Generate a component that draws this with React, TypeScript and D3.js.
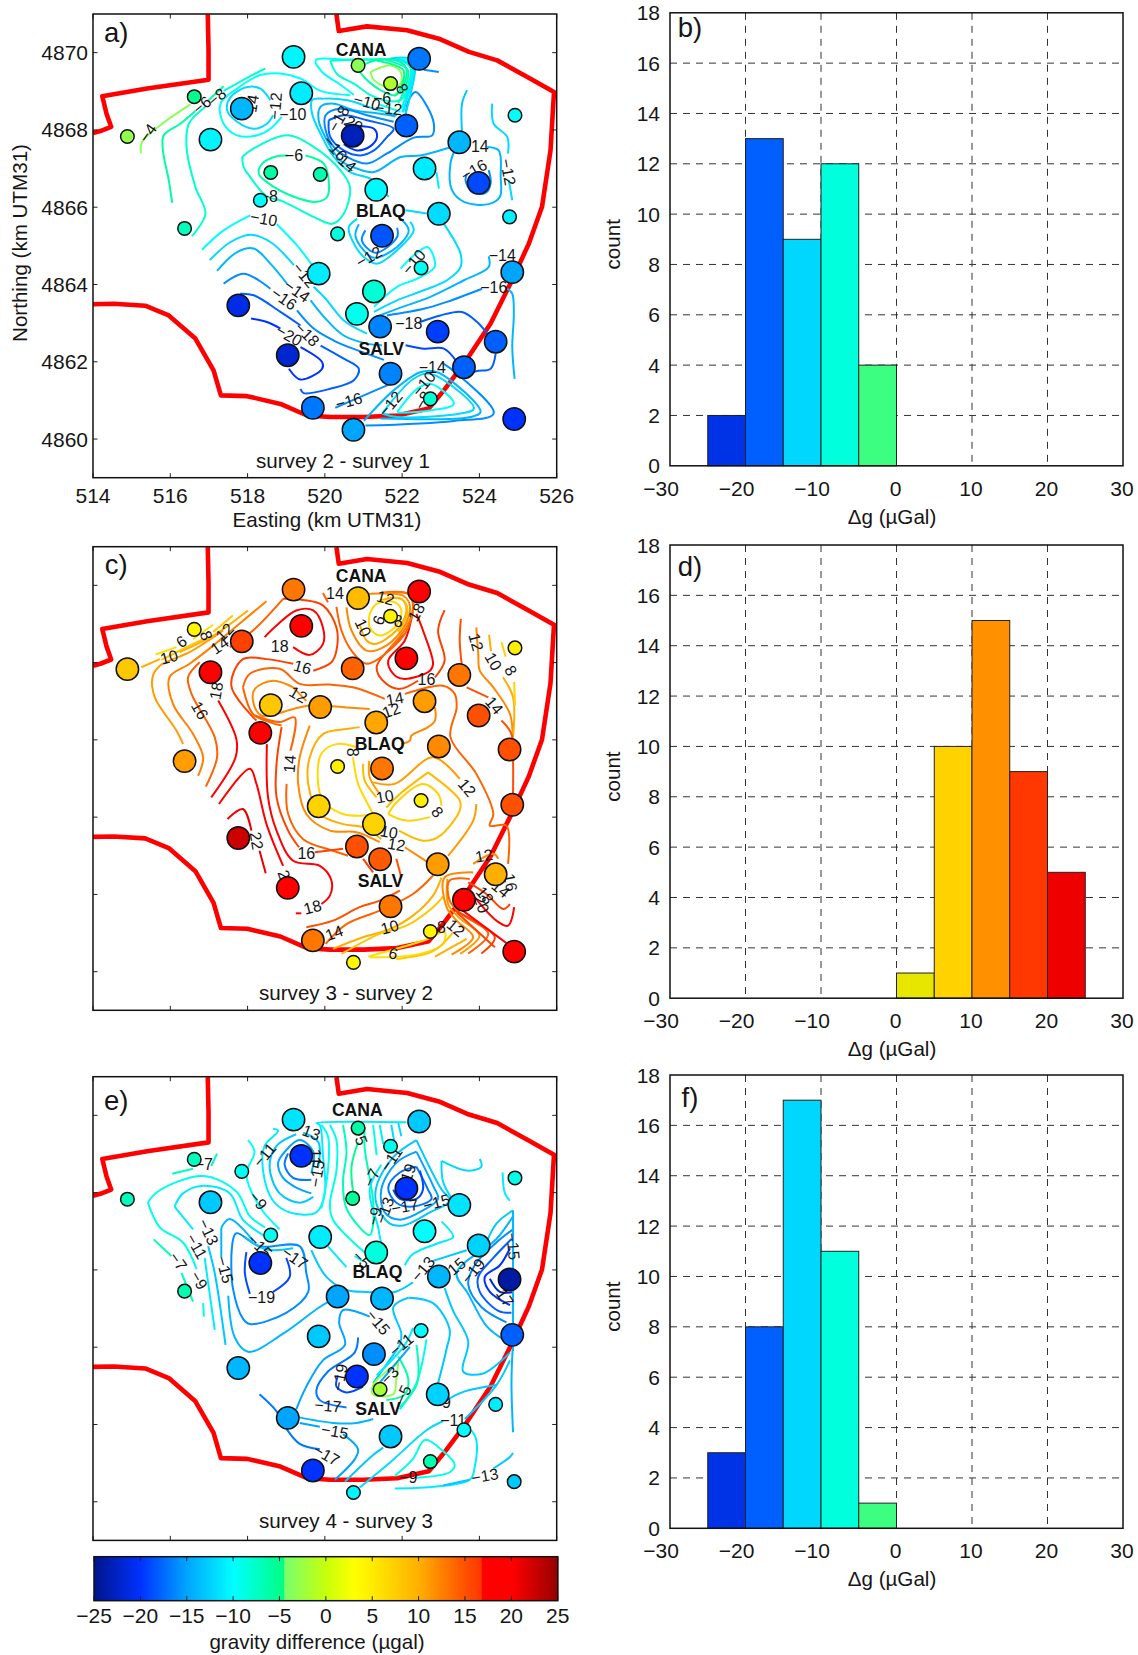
import React from "react";
import * as d3 from "d3";

// Coordinates below are km east of 514 and km north of 4860 (UTM31).
const ORIGIN_E = 514;
const ORIGIN_N = 4860;
const FONT = "'Liberation Sans', Arial, sans-serif";

const colorStops = [-25, -20, -15, -10, -4.6, -4.5, 0, 3, 5, 10, 15, 16.7, 16.8, 20, 25];
const colorValues = ["#00148c", "#0032ff", "#00a5ff", "#00ffff", "#00ff82", "#78ff6e", "#c8ff0a", "#ffff00", "#ffeb00", "#ffaf00", "#ff5000", "#ff3700", "#ff0000", "#ff0000", "#960000"];
const cmap = d3.scaleLinear<string>().domain(colorStops).range(colorValues).clamp(true);

const stationEast = [.89, 2.62, 2.37, 3.04, 3.85, 4.6, 5.88, 4.33, 5.19, 5.39, 6.86, 7.7, 8.44, 8.11, 6.72, 8.58, 9.48, 9.98, 10.92, 10.78, 7.33, 8.95, 6.33, 7.48, 8.49, 5.84, 7.27, 6.83, 7.43, 8.92, 10.42, 10.85, 3.76, 5.04, 7.7, 9.6, 8.73, 5.69, 6.74, 10.9];
const stationNorth = [7.83, 8.86, 5.45, 7.75, 8.55, 6.9, 6.85, 6.18, 9.89, 8.95, 9.67, 9.2, 9.84, 8.11, 7.85, 7.0, 7.68, 6.63, 8.38, 5.75, 6.45, 5.83, 5.31, 5.26, 4.43, 4.28, 3.82, 3.24, 2.91, 2.78, 2.52, 4.32, 3.46, 2.17, 1.69, 1.86, 1.04, .81, .24, .52];
const valuesA = [-3, -5, -7, -10.5, -14, -6, -6.5, -9.8, -10.5, -11, -3.5, -1.5, -17, -18, -23, -11, -14, -19, -9.8, -10.8, -10.3, -12, -8.5, -18.5, -9.5, -11, -8.2, -9.2, -16.5, -19.5, -18, -15, -21, -22, -16.5, -18, -8, -17, -15, -20];
const valuesC = [8, 4, 11, 19, 16, 8, 11, 19, 13, 20, 9, 4, 20, 20, 14, 11, 13, 15, 4.5, 15, 10.5, 12, 4.5, 13, 4.5, 7, 7, 15, 14.5, 11, 10, 15, 22.5, 20, 13, 20, 4, 13, 4, 20];
const valuesE = [-7, -7, -6.5, -13, -9.5, -9.5, -11, -20, -11.5, -20, -6, -9, -13, -20, -5.5, -10, -11.5, -12.5, -9, -24, -8.5, -14, -15, -14, -10, -13, -16, -20, -2, -12.5, -11, -18, -14, -15, -13, -10, -6.5, -20, -10.5, -13];
const smallA = [1, 2, 3, 6, 7, 8, 11, 12, 19, 20, 23, 25, 37];
const smallC = [2, 12, 19, 23, 25, 37, 39];
const smallE = [1, 2, 3, 5, 6, 11, 12, 15, 19, 25, 29, 31, 36, 37, 39, 40];

const boundaryNorthWest = [0, 7.92, .19, 7.97, .47, 8.08, .35, 8.42, .24, 8.87, 1.4, 9.07, 2.99, 9.3, 2.99, 10.06, 2.97, 10.99];
const boundaryMain = [0, 3.49, .54, 3.5, 1.35, 3.45, 1.96, 3.2, 2.65, 2.6, 3.12, 1.78, 3.31, 1.13, 3.99, 1.11, 4.85, .91, 5.54, .61, 6.14, .57, 7.01, .57, 7.87, .61, 8.69, .79, 9.08, 1.26, 9.6, 1.95, 10.29, 2.99, 10.8, 4.02, 11.28, 5.06, 11.62, 6.01, 11.84, 7.47, 11.93, 8.98, 11.24, 9.37, 10.46, 9.8, 9.73, 10.02, 8.95, 10.36, 8.13, 10.58, 7.09, 10.68, 6.36, 10.56, 6.3, 10.99];

// each contour: level, then x,y pairs
const contoursA: number[][] = [
  [-3.5, 1.24, 7.4, 1.27, 7.69, 1.74, 8.12, 2.52, 8.66],
  [-6, 2.05, 6.11, 1.96, 6.7, 1.81, 7.47, 1.83, 7.86, 2.26, 8.16, 2.65, 8.49],
  [-6, 2.99, 8.77, 3.38, 9.13],
  [-8, 2.56, 5.25, 2.91, 5.83, 2.65, 6.52, 2.42, 7.56, 2.48, 8.16, 2.91, 8.6],
  [-8, 3.38, 9.01, 3.99, 9.35, 4.46, 9.59],
  [-10, 4.88, 8.34, 4.59, 8.03, 4.25, 7.86, 3.73, 7.86, 3.38, 8.16, 3.3, 8.68, 3.73, 9.07, 4.33, 9.42, 4.85, 9.46, 5.37, 9.33, 5.89, 9.01, 6.66, 8.9],
  [-12, 4.66, 8.38, 4.5, 8.16, 4.16, 8.03, 3.73, 8.21, 3.47, 8.51, 3.56, 8.85, 3.99, 9.11, 4.33, 9.07, 4.59, 8.77],
  [-12, 7.87, 8.38, 7.27, 8.55, 6.58, 8.77, 5.97, 8.81, 5.67, 8.77, 5.67, 8.42, 5.89, 7.9, 6.23, 7.3, 6.66, 6.91, 7.18, 6.74, 7.44, 6.52, 7.65, 6.27],
  [-14, 7.83, 8.35, 7.44, 8.42, 6.75, 8.51, 6.23, 8.68, 5.89, 8.6, 5.84, 8.25, 6.1, 7.65, 6.4, 7.21, 6.83, 7, 7.27, 6.91, 7.96, 7.3, 8.47, 7.34, 9.21, 7.54],
  [-16, 8.09, 8.38, 8.17, 8.77, 8.35, 8.98, 8.65, 8.6, 8.82, 8.16, 8.78, 7.86, 8.3, 7.8, 7.61, 7.39, 7.09, 7.13, 6.58, 7.3, 6.23, 7.56, 6.02, 7.99, 6.02, 8.38, 6.4, 8.55, 7.09, 8.38, 7.78, 8.21],
  [-18, 6.1, 8.25, 6.49, 8.38, 7.09, 8.25, 7.78, 8.03, 7.61, 7.82, 7.27, 7.47, 6.92, 7.34, 6.49, 7.47, 6.14, 7.82, 6.1, 8.25],
  [-20, 6.49, 8.15, 6.92, 8.1, 7.27, 8.03, 7.35, 7.82, 7.18, 7.58, 6.83, 7.47, 6.49, 7.63],
  [-10, 6.75, 8.91, 6.36, 9.2, 5.93, 9.5, 5.76, 9.8, 6.58, 9.82, 7.44, 9.82, 8.17, 9.8, 8.3, 9.59, 8.17, 8.94, 8, 8.47],
  [-10, 7.4, 8.66, 7.96, 8.47],
  [-8, 6.14, 9.79, 6.32, 9.44, 6.75, 9.2, 7.18, 8.9, 7.53, 8.77, 7.96, 8.77, 8.17, 9.2, 8.22, 9.59, 8, 9.79, 7.09, 9.82, 6.14, 9.79],
  [-6, 6.84, 9.59, 7.09, 9.29, 7.44, 9.03, 7.83, 8.9, 8.09, 9.29, 8.09, 9.63, 7.87, 9.79, 7.27, 9.79, 6.84, 9.59],
  [-3.5, 7.18, 9.5, 7.27, 9.29, 7.65, 9.1, 7.96, 9.2, 7.96, 9.5, 7.7, 9.67, 7.18, 9.5],
  [-12, 7.7, 9.85, 8.17, 9.85, 8.33, 9.63, 8.22, 8.94, 8.09, 8.42],
  [-9, 7.9, 9.83, 8.25, 9.6, 8.1, 8.9, 7.98, 8.55],
  [-11, 7.85, 9.84, 8.28, 9.62, 8.14, 8.92, 8.03, 8.45],
  [-7, 7.6, 9.8, 8.15, 9.55, 8, 8.9, 7.9, 8.7],
  [-5, 7.35, 9.79, 8.03, 9.55, 7.97, 9.1, 7.8, 8.87],
  [-16, 8.56, 9.56, 8.95, 9.5],
  [-8, 3.86, 7.3, 4.16, 7.52, 5.02, 7.86, 5.71, 7.56, 6.4, 6.96, 6.65, 6.52, 6.49, 5.83, 6.19, 5.57, 5.71, 5.75, 4.94, 6.14, 4.46, 6.31, 4.07, 6.78, 3.9, 7.04, 3.86, 7.3],
  [-6, 5.5, 7.34, 5.97, 7.13, 6.1, 6.7, 6.06, 6.27, 5.8, 6.14, 5.2, 6.27, 4.5, 6.65, 4.29, 6.87, 4.38, 7.13, 4.76, 7.32, 5.04, 7.34],
  [-10, 2.82, 4.9, 3.38, 5.4, 4.07, 5.79],
  [-10, 4.76, 5.56, 5.28, 5.01, 5.71, 4.45],
  [-12, 3.02, 4.63, 3.56, 5.1, 4.07, 5.29, 4.59, 5.1, 5.2, 4.5],
  [-12, 5.71, 3.94, 6.02, 3.63, 6.49, 3.07, 7.09, 2.73],
  [-14, 3.21, 4.35, 3.73, 4.84, 4.16, 4.93, 4.59, 4.54, 5.02, 4.02],
  [-14, 5.63, 3.59, 6.06, 3.07, 6.49, 2.68, 7.09, 2.47, 7.48, 2.43],
  [-16, 3.38, 4.02, 3.9, 4.28, 4.59, 3.89],
  [-16, 5.28, 3.33, 5.71, 2.86, 6.23, 2.55, 6.83, 2.3, 7.53, 2.05],
  [-18, 3.81, 3.76, 4.16, 3.72, 4.85, 3.29, 5.37, 2.94],
  [-18, 5.89, 2.42, 6.49, 2.08, 6.88, 1.82, 6.75, 1.52, 6.14, 1.3, 5.45, 1.19, 5.37, 1.3],
  [-20, 4.09, 3.12, 4.5, 3.03, 4.85, 2.86],
  [-20, 5.37, 2.38, 5.93, 1.99, 5.93, 1.82, 5.37, 1.54, 5.07, 1.82],
  [-12, 9.08, 5.57, 9.51, 4.8, 9.51, 4.45, 9.16, 4.11, 8.56, 3.85, 7.87, 3.59, 7.27, 3.29],
  [-12, 8.09, 5.92, 8.69, 5.83],
  [-12, 8.21, 5.62, 8.3, 5.4, 7.96, 4.97, 7.35, 4.54, 7.01, 4.71, 6.71, 5.14, 6.62, 5.49, 6.84, 5.7],
  [-14, 6.88, 5.56, 6.79, 5.27, 7.01, 4.88, 7.27, 4.69, 7.87, 4.97, 8.17, 5.4, 8, 5.66],
  [-16, 7.05, 5.4, 6.96, 5.14, 7.31, 4.82, 7.87, 5.23, 7.87, 5.47],
  [-10, 7.96, 4.41, 8.3, 4.75, 8.65, 4.97, 8.82, 4.71, 8.84, 4.45, 8.39, 4.15, 7.87, 3.94, 7.27, 3.42],
  [-14, 10.24, 4.73, 10.24, 4.45, 9.6, 4.11, 8.73, 3.68, 7.87, 3.37, 7.31, 3.16],
  [-16, 10.07, 3.89, 9.16, 3.55, 8.56, 3.37, 7.61, 3.2],
  [-18, 8.47, 3.03, 8.99, 3.2, 9.55, 3.29, 9.94, 3.03, 10.24, 2.68],
  [-19, 8.09, 2.43, 8.56, 2.34, 9.08, 2.34, 9.42, 1.99],
  [-18, 10.42, 2.21, 10.29, 1.82, 9.94, 1.76, 9.73, 1.69],
  [-14, 10.72, 3.89, 10.85, 3.76, 10.89, 3.24, 10.85, 2.38, 10.91, 1.56],
  [-13, 9.68, 9.03, 9.55, 8.68, 9.55, 7.95],
  [-14, 10.2, 7.56, 10.5, 7.47, 10.55, 6.78, 10.53, 6.27, 10.24, 6.08, 9.6, 6.14, 9.29, 6.44, 9.25, 7.13, 9.38, 7.52],
  [-16, 10.24, 6.96, 10.29, 6.62, 10.16, 6.37, 9.81, 6.39, 9.64, 6.7, 9.68, 6.87],
  [-12, 10.33, 8.68, 10.37, 8.16, 10.72, 7.82, 10.74, 7.39],
  [-12, 10.76, 6.7, 10.85, 6.18],
  [-11, 8.89, 6.91, 8.95, 6.48],
  [-16, 6.27, .81, 6.92, 1.09, 7.7, 1.43],
  [-16, 7.05, .35, 9.34, .47, 10.37, .66, 9.42, 1.69, 9.04, 1.97],
  [-14, 7.01, .47, 7.78, 1.26, 8.47, 1.73, 8.91, 1.73, 10.03, .7, 9.77, .57, 7.44, .53],
  [-12, 7.48, .66, 8.3, 1.56, 8.73, 1.69, 9.86, .79, 9.51, .66, 7.87, .57, 7.48, .66],
  [-10, 7.87, .7, 8.39, 1.3, 8.73, 1.43, 9.34, .91, 8.73, .74, 7.87, .68],
];
const labelsA: [string, number, number, number][] = [
  ["−4", 1.42, 7.92, -55], ["−6", 2.82, 8.64, -40], ["−8", 3.21, 8.85, -40], ["14", 4.12, 8.68, -80], ["−12", 4.72, 8.62, -85], ["−10", 5.17, 8.4, 0],
  ["−18", 6.36, 8.29, -60], ["20", 6.75, 8.15, 30], ["−16", 6.27, 7.52, 50], ["14", 6.58, 7.13, 40], ["−6", 5.2, 7.33, 0], ["−8", 4.55, 6.28, 0], ["−10", 4.42, 5.7, 10],
  ["−12", 5.47, 4.24, 50], ["−14", 5.28, 3.83, 35], ["−16", 4.94, 3.63, 35], ["−18", 5.54, 2.71, 45], ["−20", 5.07, 2.68, 30], ["−18", 8.17, 2.99, 0], ["−14", 10.59, 4.76, 0],
  ["−16", 10.37, 3.91, 0], ["14", 10.01, 7.56, 0], ["−16", 9.86, 6.96, -30], ["−12", 10.74, 6.91, 80], ["−10", 7.09, 8.72, 15], ["−12", 7.65, 8.55, 5], ["−6", 7.48, 8.81, 0], ["8", 8, 9.07, 60],
  ["−12", 7.14, 4.71, -30], ["−10", 8.3, 4.58, -50], ["−14", 8.78, 1.86, 0], ["−10", 8.56, 1.43, -50], ["−12", 7.7, .91, -50], ["−8", 8.54, 1, -60], ["−16", 6.62, .98, -15],
];

const contoursC: number[][] = [
  [6, 1.62, 8.21, 2.16, 8.4],
  [6, 2.59, 8.61, 3.11, 8.98],
  [8, 1.77, 8.07, 2.5, 8.44, 2.85, 8.61],
  [8, 3.11, 8.79, 3.62, 9.22],
  [10, 1.25, 7.88, 1.73, 8.09],
  [10, 2.24, 8.27, 3.11, 8.7, 4.01, 9.35],
  [11, 2.33, 5.89, 2.16, 6.24, 1.6, 7.1, 1.54, 7.62, 1.73, 7.92, 2.5, 8.27, 3.37, 8.83],
  [12.5, 2.72, 5.07, 2.85, 5.55, 2.59, 6.15, 2.07, 6.93, 1.98, 7.62, 2.5, 7.97, 3.11, 8.44, 4.14, 9.3, 4.49, 9.59],
  [14, 2.92, 4.79, 3.21, 5.55, 3.15, 6.07, 2.55, 7.19, 2.46, 7.62, 2.76, 8.01],
  [14, 3.54, 8.4, 4.14, 8.83, 4.92, 9.65],
  [16.8, 3.06, 4.51, 3.69, 5.55, 3.71, 6.02, 3.24, 7.02],
  [19, 3.26, 4.34, 4.06, 5.25, 4.23, 4.86, 4.49, 3.82, 4.92, 2.74],
  [21, 3.48, 3.95, 3.88, 4.21, 4.1, 3.65],
  [21, 4.31, 3.13, 4.47, 2.55],
  [18, 4.44, 8.66, 4.75, 8.96, 5.26, 9.35, 5.7, 9.35, 5.95, 8.91, 5.95, 8.48, 5.61, 8.2, 5.18, 8.4],
  [16, 4.92, 9.65, 5.44, 9.62, 5.95, 9.48, 6.3, 8.91, 6.3, 8.31, 6.17, 8.01, 5.7, 7.79],
  [16, 5.18, 7.97, 4.49, 8.09, 3.88, 8.09, 3.58, 7.4, 4.23, 6.5],
  [14, 3.88, 7.36, 4.06, 7.71, 4.83, 7.84, 5.35, 7.45, 6.13, 7.43, 6.73, 7.36, 7.55, 7.06],
  [14, 8.07, 7.19, 9.06, 7.4, 9.36, 7.19, 9.41, 6.84, 9.25, 6.07, 9.92, 5.12, 10.36, 4.08, 10.27, 3.78, 10.7, 3.78, 10.74, 2.79],
  [14, 3.88, 7.36, 4.14, 6.67, 4.57, 6.46, 4.88, 6.37],
  [14, 4.19, 6.63, 4.83, 6.46, 5.22, 6.58, 5.11, 5.72],
  [14, 5.01, 4.86, 5.05, 4.08, 5.44, 3.43, 6.21, 3.13, 6.6, 3],
  [16, 4.88, 6.33, 4.75, 5.38, 4.75, 4.51, 5.05, 3.65, 5.33, 3.22],
  [16, 5.74, 3.09, 6.47, 3.18],
  [18, 4.5, 5.89, 4.53, 4.51, 4.75, 3.65, 5.18, 2.87, 5.87, 2.74, 6.17, 2.36, 6.13, 1.97, 5.91, 1.75],
  [18, 5.39, 1.51, 5.25, 1.51],
  [12, 5.18, 7.36, 4.66, 7.53, 4.19, 7.32, 4.14, 7.02, 4.36, 6.63, 5.18, 6.8, 5.61, 6.89, 6.56, 6.84, 7.16, 6.8],
  [12, 5.52, 7.01, 5.18, 7.36],
  [12, 8.85, 6.84, 8.85, 6.5, 8.67, 6.33, 8.24, 6.11, 8.2, 5.98, 7.98, 5.89],
  [12, 5.61, 6.37, 5.35, 5.55, 5.31, 4.86, 5.52, 4.08, 6.13, 3.65, 6.82, 3.61, 7.42, 3.35],
  [12, 8.07, 3.22, 8.67, 2.83],
  [10, 6.9, 6.33, 6.56, 6.28, 5.95, 6.15, 5.61, 5.55, 5.57, 4.86, 5.87, 4.08, 6.47, 3.82, 6.99, 3.74, 7.46, 3.43],
  [6.5, 6.82, 5.81, 6.3, 5.89, 5.91, 5.64, 5.82, 4.95, 5.95, 4.43, 6.47, 4.08, 6.99, 4.04, 7.25, 4.08],
  [6.5, 6.73, 5.55, 6.86, 4.86, 7.16, 4.25, 7.25, 4.08],
  [9, 6.99, 5.38, 7.03, 4.95, 7.34, 4.51],
  [11, 7.15, 5.46, 7.16, 5.03, 7.42, 4.6],
  [7, 7.64, 4.08, 7.85, 4.38, 8.54, 4.86, 8.93, 4.6, 9.02, 4.3],
  [7, 8.72, 4, 8.11, 3.91, 7.64, 4.08],
  [9, 8.67, 5.16, 9.49, 4.43, 9.49, 4.17, 8.93, 3.48, 8.54, 3.39, 7.92, 3.65],
  [9, 7.59, 4.25, 7.94, 4.6, 8.67, 5.16],
  [11, 7.25, 4.9, 7.81, 4.86, 8.8, 5.55, 9.49, 4.99],
  [11, 9.92, 4.34, 9.84, 3.91, 9.19, 3],
  [20, 8.28, 9.35, 8.07, 8.57, 7.64, 8.05, 7.77, 7.71, 8.03, 7.58, 8.72, 7.79, 8.8, 7.97, 8.54, 8.83, 8.37, 9.26],
  [16, 8.07, 8.74, 7.34, 7.88, 7.59, 7.45, 7.94, 7.32, 8.41, 7.53],
  [16, 8.85, 7.62, 9.1, 8.05, 8.93, 8.83, 9.1, 9.36],
  [14, 5.95, 9.8, 6.08, 9.56],
  [14, 6.3, 9.44, 6.43, 8.83, 6.69, 8.31, 7.08, 7.97, 7.81, 8.44, 8.16, 8.91, 8.28, 9.52, 8.16, 9.78, 7.46, 9.81],
  [13, 7.5, 9.8, 8.2, 9.76, 8.3, 9.5, 8.1, 8.9, 7.7, 8.4],
  [12, 6.56, 9.43, 6.69, 8.83, 7.08, 8.31, 7.59, 8.44, 8.07, 8.96, 8.2, 9.48, 8.03, 9.73, 7.42, 9.79, 6.99, 9.77],
  [10, 6.9, 9, 7.08, 8.57, 7.29, 8.48, 7.85, 8.83, 8.11, 9.35, 7.98, 9.65, 7.42, 9.61],
  [9, 7.6, 9.68, 8.02, 9.62, 8.14, 9.3, 7.9, 8.8],
  [6.5, 7.16, 9.26, 7.16, 8.91, 7.42, 8.7, 7.85, 8.96, 7.98, 9.35, 7.81, 9.56, 7.34, 9.52, 7.16, 9.26],
  [15, 9.52, 9.13, 9.49, 8.57, 9.54, 7.97],
  [12, 9.92, 8.91, 9.97, 8.22, 10.01, 7.79, 10.36, 7.36, 10.79, 6.67, 10.86, 6.07],
  [10, 10.25, 8.72, 10.3, 8.3],
  [10, 10.61, 7.62, 10.87, 7.1, 10.87, 6.07],
  [7, 10.57, 8.53, 10.68, 8.15],
  [7, 10.9, 7.5, 10.92, 6.89],
  [15, 9.67, 7.36, 10.23, 7.1],
  [15, 10.57, 6.5, 10.83, 6.15, 10.87, 5.46, 10.87, 4.6],
  [14, 8.8, 2.49, 8.28, 2.01, 7.42, 1.58, 6.56, 1.23, 6.02, .72],
  [10, 9.02, 2.44, 8.8, 1.97, 8.28, 1.45, 7.68, 1.1, 6.99, .89, 6.21, .59],
  [8, 9.08, 1.97, 8.8, 1.67, 8.11, 1.19, 7.42, .98, 6.43, .46],
  [6, 7.12, .39, 8.54, .8, 9.1, 1.02, 9.06, .72, 8.46, .46, 7.16, .37],
  [8, 7.85, .33, 8.8, .53, 9.32, 1.02],
  [10, 8.85, .39, 9.67, .85],
  [11, 9.5, .46, 10, .93, 9.47, 1.4, 9.19, 1.75, 9.17, 2.4],
  [12, 9.28, .44, 9.84, .89, 9.41, 1.32, 9.15, 1.67, 9.1, 2.44, 9.84, 2.57],
  [14, 9.71, .47, 10.23, .98, 9.54, 1.49, 9.23, 1.84, 9.23, 2.36, 9.75, 2.4],
  [16, 10.05, .47, 10.4, .89, 9.37, 1.58],
  [16, 10.4, .63, 9.41, 1.54],
  [20, 10.79, .67, 9.45, 1.67],
  [16, 9.71, 2.31, 10.18, 2.01, 10.62, 1.62, 10.79, 1.75],
  [18, 9.88, 1.92, 10.44, 1.32, 10.74, 1.19, 10.9, 1.67],
  [12, 9.84, 2.79, 10.36, 3.05, 10.49, 2.92],
  [16, 6.99, 2.92, 7.25, 2.57],
  [15, 7.85, 2.92, 7.98, 2.44],
  [15, 7.94, 2.1, 7.42, 1.84, 6.9, 1.67, 6.21, 1.32, 5.52, 1.15],
];
const labelsC: [string, number, number, number][] = [
  ["6", 2.29, 8.54, -35], ["8", 2.93, 8.7, 70], ["12", 3.41, 8.79, -45], ["14", 3.28, 8.44, -35], ["10", 1.97, 8.14, -15], ["18", 3.19, 7.27, -80], ["16", 2.76, 6.76, 60], ["18", 4.83, 8.41, 0],
  ["16", 5.42, 7.88, 15], ["12", 5.31, 7.17, 30], ["14", 7.81, 7.06, -10], ["12", 7.72, 6.76, -20], ["16", 8.63, 7.56, 0], ["14", 6.26, 9.79, 0], ["12", 7.57, 9.67, 15], ["10", 6.99, 8.9, 65],
  ["18", 8.37, 9.3, -60], ["6", 7.4, 9.1, -70], ["8", 7.9, 9.07, 0], ["12", 9.91, 8.53, 75], ["10", 10.36, 8.03, 60], ["8", 10.81, 7.79, 60], ["14", 10.38, 6.89, 50], ["14", 5.09, 5.38, -85],
  ["10", 7.55, 4.53, -10], ["8", 8.91, 4.13, 50], ["12", 9.68, 4.76, 50], ["10", 7.66, 3.61, 10], ["12", 7.85, 3.29, 10], ["16", 5.52, 3.07, 0], ["8", 6.71, 5.68, 90], ["22", 4.23, 3.39, 80],
  ["2", 4.94, 2.51, 70], ["18", 5.68, 1.67, -15], ["14", 6.24, 1, -20], ["10", 7.68, 1.15, -15], ["6", 7.77, .47, 15], ["8", 9.02, 1.15, 0], ["12", 9.39, 1.13, 40], ["12", 10.12, 3, -10],
  ["18", 10.14, 1.97, 50], ["20", 10.05, 1.75, 70], ["14", 10.55, 2.14, 40], ["16", 10.8, 2.31, 80],
];

const contoursE: number[][] = [
  [-7, 2.05, 8.49, 2.59, 8.62],
  [-7, 3.06, 8.69, 3.21, 9.01],
  [-7, 1.57, 6.79, 2.03, 6.36],
  [-7, 2.29, 5.92, 2.59, 5.18],
  [-9, 1.42, 7.74, 1.68, 8.03, 2.85, 8.43, 3.71, 8.03, 4.06, 7.39, 4.45, 7.1],
  [-9, 1.42, 7.74, 1.73, 7.1, 2.33, 6.71, 2.68, 6.02],
  [-9, 2.85, 5.14, 2.87, 4.79],
  [-11, 2.11, 7.64, 2.33, 7.98, 2.85, 8.18, 3.54, 7.98, 3.88, 7.3, 4.49, 6.85],
  [-11, 2.11, 7.64, 2.59, 7.05],
  [-11, 2.89, 6.31, 3.15, 4.45],
  [-13, 2.98, 6.61, 3.15, 5.92, 3.43, 4.06],
  [-14, 3.32, 7.1, 3.32, 6.31],
  [-14, 3.5, 5.33, 3.67, 4.25, 4.01, 3.88, 4.92, 4.35, 5.87, 5.04, 6.3, 5.28],
  [-14, 3.32, 7.1, 3.54, 7.32, 4.14, 6.76],
  [-16, 3.61, 6.71, 3.71, 6.95, 4.31, 6.61, 5.35, 6.61, 5.52, 5.92, 5.57, 5.43, 5, 4.89, 4.06, 4.6, 3.88, 4.74, 3.62, 5.53, 3.58, 6.31, 3.61, 6.71],
  [-19, 3.97, 6.46, 3.93, 5.92, 4.06, 5.38],
  [-19, 4.66, 5.43, 5.09, 5.82, 5, 6.31],
  [-10, 4.01, 9.36, 4.18, 9.06, 3.97, 8.47, 4.31, 7.64, 4.83, 7.05],
  [-11, 4.66, 9.65, 4.79, 9.6, 4.44, 9.21, 4.4, 8.57, 4.66, 7.79, 5.09, 7.49, 5.78, 7.49, 6, 7.98, 5.95, 8.97, 5.87, 9.75, 5.78, 9.8, 8.11, 9.82],
  [-13, 5.26, 9.51, 4.75, 9.21, 4.57, 8.67, 4.83, 7.98, 5.35, 7.74, 5.7, 7.89],
  [-13, 5.83, 8.67, 5.83, 9.31, 5.44, 9.55],
  [-15, 5.01, 9.11, 4.79, 8.77, 4.92, 8.38, 5.26, 8.13, 5.65, 7.98],
  [-15, 5.65, 8.5, 5.7, 9.06, 5.35, 9.36, 5.01, 9.11],
  [-17, 5.05, 9.01, 4.96, 8.72, 5.18, 8.38, 5.65, 8.33],
  [-13, 8.37, 9.36, 9.02, 8.08, 9.24, 7.79, 8.72, 7.49, 8.03, 7.15, 7.68, 7.2, 7.34, 7.69, 7.34, 8.18, 7.77, 8.92, 8.37, 9.36],
  [-15, 8.37, 9.06, 8.8, 8.18, 8.93, 7.84, 8.54, 7.54, 7.94, 7.3, 7.55, 7.49, 7.46, 8.08, 7.85, 8.77, 8.37, 9.06],
  [-17, 8.37, 8.67, 8.67, 8.08, 8.76, 7.84, 8.28, 7.64, 7.85, 7.74, 7.64, 8.13, 7.94, 8.52, 8.37, 8.67],
  [-19, 8.46, 8.57, 8.54, 8.08, 8.37, 7.84, 7.94, 7.84, 7.77, 8.08],
  [-5, 6.86, 9.31, 6.69, 8.67, 6.73, 8.03],
  [-7, 6.47, 9.75, 6.56, 9.06, 6.47, 8.28, 6.56, 7.59, 7.16, 6.9, 7.25, 7.2, 7.25, 7.79, 7.16, 8.38, 7.03, 9.16, 7.03, 9.7],
  [-9, 6.13, 9.75, 6.3, 9.36, 6.3, 8.57, 6.13, 7.69, 6.21, 7.3, 7.08, 6.41],
  [-9, 7.25, 9.75, 7.34, 8.97],
  [-10, 5.91, 9.75, 6.08, 9.46, 6.08, 8.57, 5.91, 7.59],
  [-11, 7.42, 9.75, 7.51, 9.26],
  [-12, 7.72, 9.75, 7.8, 9.3],
  [-12, 7.9, 9.8, 7.98, 9.46],
  [-11, 7.46, 8.72, 7.16, 8.08, 7.38, 7.1, 7.46, 6.71, 7.59, 6.51],
  [-12, 9.02, 8.82, 9.67, 8.57, 10.05, 8.67, 10.01, 8.87],
  [-12, 9.02, 8.82, 9.06, 8.28, 9.32, 7.79],
  [-11, 9.02, 7.25, 9.32, 6.85, 8.98, 6.71, 8.28, 6.41, 8.07, 6.12],
  [-11, 10.6, 8.52, 10.66, 7.98, 10.79, 7.79],
  [-13, 5.65, 6.51, 6.04, 5.82, 6.56, 5.48, 7.08, 5.43, 7.81, 5.43, 8.28, 5.68],
  [-13, 8.76, 6.22, 9.67, 6.51],
  [-11, 6.08, 6.61, 6.56, 6.07],
  [-9, 6.77, 6.36, 6.99, 6.22],
  [-13, 9.1, 5.53, 9.32, 4.94, 9.71, 4.15, 9.58, 3.37, 10.1, 3.32, 10.79, 3.86],
  [-15, 7.16, 4.79, 6.47, 4.96, 6.37, 4.64, 6.52, 4.06, 5.95, 3.66, 5.52, 2.98, 5.26, 2.39],
  [-17, 6.86, 4.25, 6.77, 3.86, 6.08, 3.37, 5.78, 2.88, 5.87, 2.63, 6.56, 2.44],
  [-19, 6.34, 3.27, 6.3, 2.98, 6.56, 2.83, 6.99, 2.98],
  [-13, 8.16, 5.28, 8.8, 5.14, 9.23, 4.45, 9.15, 3.96, 8.93, 3.07],
  [-13, 8.16, 5.28, 7.77, 5.04, 7.98, 4.35, 7.94, 4.06, 7.81, 3.86, 7.25, 3.07],
  [-11, 8.28, 4.5, 8.07, 4.06, 7.34, 3.27],
  [-9, 8.63, 4.2, 8.37, 3.07, 7.94, 2.39],
  [-7, 8.37, 4.06, 8.39, 3.07, 7.94, 2.45],
  [-6, 7.9, 3.76, 8.16, 3.17, 8.07, 2.78, 7.59, 2.63],
  [-3, 7.9, 3.61, 7.85, 3.17, 7.77, 2.78, 7.25, 2.78, 7.25, 3.02, 7.9, 3.61],
  [-15, 7.25, 2.88, 8.2, 4.01],
  [-17, 4.31, 2.78, 4.75, 2.34, 5, 1.9, 5.35, 1.5, 5.87, 1.36],
  [-15, 5.35, 2.04, 5.87, 1.94],
  [-15, 6.47, 1.75, 6.86, 1.36, 6.78, 1.11, 6.26, .57],
  [-14, 5.31, 2.19, 6.21, 2.04, 6.82, 2.04, 7.25, 2.14],
  [-13, 6.52, .52, 7.25, 1.21, 7.51, 1.4],
  [-12, 6.9, .37, 7.68, 1.01, 8.63, 1.85, 9.06, 2.09],
  [-9, 7.81, .67, 8.28, 1.11, 8.59, 1.6, 9.06, 1.31, 9.36, .96, 9.24, .77, 8.37, .62],
  [-13, 9.62, 2.14, 10.44, 3.02, 10.79, 3.66],
  [-13, 9.15, 2.63, 9.6, 2.85, 10.44, 3.02],
  [-11, 7.81, .34, 9.75, .57, 9.88, .91, 9.92, 1.6, 9.79, 1.85],
  [-13, 9.06, .42, 9.75, .57],
  [-13, 10.36, .86, 10.79, 1.16, 10.87, 1.26],
  [-14, 10.86, 3.96, 10.83, 3.07, 10.87, 1.8],
  [-14, 10.87, 7.39, 10.44, 6.8, 9.41, 5.92, 9.71, 5.38, 10.18, 4.55, 10.62, 4.2],
  [-16, 10.87, 7.05, 10.44, 6.71, 9.88, 6.12, 9.71, 5.63, 10.05, 5.04, 10.7, 4.64],
  [-18, 10.83, 6.8, 10.36, 6.31, 9.97, 5.82, 10.01, 5.43, 10.49, 4.94, 10.83, 4.89],
  [-20, 10.79, 6.56, 10.53, 6.12, 10.14, 5.82, 10.27, 5.43, 10.79, 5.09],
  [-22, 10.27, 5.77, 10.53, 5.43, 10.87, 5.43],
  [-13, 10.87, 7.54, 10.44, 7.2, 10.14, 6.61],
  [-14, 10.87, 7.54, 10.87, 3.9],
  [-13, 3.93, 6.85, 4.49, 6.53, 5.18, 6.56],
];
const labelsE: [string, number, number, number][] = [
  ["−7", 2.87, 8.72, 0], ["−11", 4.44, 8.97, -50], ["13", 5.65, 9.55, 20], ["11", 5.74, 8.92, 90], ["−15", 5.8, 8.49, -80], ["−9", 4.27, 7.79, 50], ["−13", 2.98, 6.98, 65], ["−11", 2.68, 6.61, 60],
  ["−15", 3.41, 6, 75], ["−7", 2.2, 6.22, 55], ["−9", 2.74, 5.73, 60], ["−15", 4.32, 6.61, 45], ["−17", 5.22, 6.31, 35], ["−19", 4.36, 5.28, 0], ["−5", 6.9, 9.46, 70], ["−7", 7.21, 8.38, -65],
  ["−9", 7.29, 7.39, -75], ["−13", 7.55, 7.54, -70], ["−11", 7.72, 8.87, -55], ["19", 8.16, 8.52, -70], ["−17", 8.07, 7.64, -10], ["−15", 8.89, 7.74, -15], ["−5", 6.95, 6.27, 45], ["−13", 8.54, 6.02, -50],
  ["15", 9.41, 6.09, -40], ["−19", 9.84, 5.97, -50], ["−15", 10.87, 6.61, 85], ["17", 10.66, 5.28, 55], ["−15", 7.38, 4.64, 50], ["−11", 7.98, 4.06, -40], ["−19", 6.39, 3.22, -80], ["−3", 7.68, 3.27, -45],
  ["−5", 8.03, 2.78, -65], ["−17", 6.08, 2.48, 5], ["−15", 6.26, 1.82, 10], ["−17", 6.04, 1.21, 30], ["−11", 9.32, 2.09, 0], ["−9", 8.16, .62, 0], ["−13", 10.14, .67, -10], ["9", 9.15, 2.58, 0],
];

const mapEastTicks = [514, 516, 518, 520, 522, 524, 526];
const mapNorthTicks = [4860, 4862, 4864, 4866, 4868, 4870];
const histXTicks = [-30, -20, -10, 0, 10, 20, 30];
const histYTicks = [0, 2, 4, 6, 8, 10, 12, 14, 16, 18];
const colorbarTicks = [-25, -20, -15, -10, -5, 0, 5, 10, 15, 20, 25];

const binEdgesB = [-25, -20, -15, -10, -5];
const countsB = [2, 13, 9, 12, 4];
const colorsB = ["#0032e6", "#005fff", "#00d7ff", "#00ffdc", "#3cff82"];
const binEdgesD = [0, 5, 10, 15, 20];
const countsD = [1, 10, 15, 9, 5];
const colorsD = ["#e6e600", "#ffd200", "#ff9100", "#ff3700", "#ee0000"];
const countsF = [3, 8, 17, 11, 1];

const TICK_FS = 21;
const LABEL_FS = 20.6;
const INK = "#161616";

const minus = (v: number) => (v < 0 ? "−" + Math.abs(v) : String(v));
const pairs = (flat: number[]) => {
  const out: [number, number][] = [];
  for (let i = 0; i + 1 < flat.length; i += 2) out.push([flat[i], flat[i + 1]]);
  return out;
};

type MapProps = {
  top: number; bottom: number; letter: string; letterDy: number; survey: string; surveyX: number; surveyY: number; contours: number[][]; labels: [string, number, number, number][];
  values: number[]; small: number[]; cana: [number, number]; blaq: [number, number]; salv: [number, number]; axisLabels?: boolean;
};

function MapPanel({ top, bottom, letter, letterDy, survey, surveyX, surveyY, contours, labels, values, small, cana, blaq, salv, axisLabels }: MapProps) {
  const left = 93, right = 556.7;
  const x = d3.scaleLinear().domain([514, 526]).range([left, right]);
  const y = d3.scaleLinear().domain([4859, 4871]).range([bottom, top]);
  const smooth = d3.line<[number, number]>().x((d) => x(ORIGIN_E + d[0])).y((d) => y(ORIGIN_N + d[1])).curve(d3.curveCatmullRom.alpha(0.5));
  const straight = d3.line<[number, number]>().x((d) => x(ORIGIN_E + d[0])).y((d) => y(ORIGIN_N + d[1]));
  const clipId = "clip-" + letter[0];
  return (
    <g fontFamily={FONT}>
      <clipPath id={clipId}><rect x={left} y={top} width={right - left} height={bottom - top} /></clipPath>
      <g clipPath={`url(#${clipId})`}>
        {[boundaryNorthWest, boundaryMain].map((b, i) => (
          <path key={i} d={straight(pairs(b)) || ""} fill="none" stroke="#ff0000" strokeWidth={4.6} strokeLinejoin="round" />
        ))}
      </g>
      {contours.map((c, i) => (
        <path key={i} d={smooth(pairs(c.slice(1))) || ""} fill="none" stroke={cmap(c[0])} strokeWidth={2} />
      ))}
      {labels.map(([t, a, b, r], i) => (
        <text key={i} transform={`translate(${x(ORIGIN_E + a)},${y(ORIGIN_N + b)}) rotate(${r})`} fontSize={16} fill={INK} textAnchor="middle" dominantBaseline="central">{t}</text>
      ))}
      {stationEast.map((e, i) => (
        <circle key={i} cx={x(ORIGIN_E + e)} cy={y(ORIGIN_N + stationNorth[i])} r={small.includes(i + 1) ? 6.8 : 11.2} fill={cmap(values[i])} stroke="#111" strokeWidth={1.5} />
      ))}
      {[["CANA", cana], ["BLAQ", blaq], ["SALV", salv]].map(([t, p]: any) => (
        <text key={t} x={x(ORIGIN_E + p[0])} y={y(ORIGIN_N + p[1])} fontSize={17.6} fontWeight="bold" fill="#111" textAnchor="middle" dominantBaseline="central">{t}</text>
      ))}
      <text x={surveyX} y={surveyY} fontSize={LABEL_FS} fill={INK} textAnchor="middle" dominantBaseline="central">{survey}</text>
      <text x={x(ORIGIN_E + .6)} y={top + letterDy} fontSize={27.5} fill={INK} textAnchor="middle" dominantBaseline="central">{letter}</text>
      {mapEastTicks.map((t) => (
        <g key={t} stroke="#222" strokeWidth={1}>
          <line x1={x(t)} x2={x(t)} y1={top} y2={top + 4.5} />
          <line x1={x(t)} x2={x(t)} y1={bottom} y2={bottom - 4.5} />
        </g>
      ))}
      {mapNorthTicks.map((t) => (
        <g key={t} stroke="#222" strokeWidth={1}>
          <line y1={y(t)} y2={y(t)} x1={left} x2={left + 4.5} />
          <line y1={y(t)} y2={y(t)} x1={right} x2={right - 4.5} />
        </g>
      ))}
      <rect x={left} y={top} width={right - left} height={bottom - top} fill="none" stroke="#111" strokeWidth={1.5} />
      {axisLabels && (
        <g fill={INK} fontSize={TICK_FS}>
          {mapEastTicks.map((t) => <text key={t} x={x(t)} y={bottom + 25.5} textAnchor="middle">{t}</text>)}
          {mapNorthTicks.map((t) => <text key={t} x={left - 5} y={y(t) + 7.5} textAnchor="end">{t}</text>)}
          <text x={327} y={bottom + 49} textAnchor="middle" fontSize={LABEL_FS}>Easting (km UTM31)</text>
          <text transform={`translate(27,243) rotate(-90)`} textAnchor="middle" fontSize={LABEL_FS}>Northing (km UTM31)</text>
        </g>
      )}
    </g>
  );
}

function HistPanel({ top, bottom, letter, letterDy, edges, counts, colors }: { top: number; bottom: number; letter: string; letterDy: number; edges: number[]; counts: number[]; colors: string[] }) {
  const left = 670, right = 1123;
  const x = d3.scaleLinear().domain([-30, 30]).range([left, right]);
  const y = d3.scaleLinear().domain([0, 18]).range([bottom, top]);
  return (
    <g fontFamily={FONT}>
      {histXTicks.slice(1, -1).map((t) => <line key={t} x1={x(t)} x2={x(t)} y1={top} y2={bottom} stroke="#333" strokeWidth={1} strokeDasharray="7 6" />)}
      {histYTicks.slice(1, -1).map((t) => <line key={t} y1={y(t)} y2={y(t)} x1={left} x2={right} stroke="#333" strokeWidth={1} strokeDasharray="7 6" />)}
      {counts.map((c, i) => (
        <rect key={i} x={x(edges[i])} width={x(edges[i] + 5) - x(edges[i])} y={y(c)} height={y(0) - y(c)} fill={colors[i]} stroke="#222" strokeWidth={1} />
      ))}
      <rect x={left} y={top} width={right - left} height={bottom - top} fill="none" stroke="#111" strokeWidth={1.5} />
      <g fill={INK} fontSize={TICK_FS}>
        {histXTicks.map((t) => <text key={t} x={x(t) - (t < 0 ? 9 : 1)} y={bottom + 30} textAnchor="middle">{minus(t)}</text>)}
        {histYTicks.map((t) => <text key={t} x={left - 10} y={y(t) + 7.5} textAnchor="end">{t}</text>)}
        <text x={892} y={bottom + 58} textAnchor="middle" fontSize={LABEL_FS}>Δg (µGal)</text>
        <text transform={`translate(620,${(top + bottom) / 2 + 5}) rotate(-90)`} textAnchor="middle" fontSize={LABEL_FS}>count</text>
      </g>
      <text x={left + 20} y={top + letterDy} fontSize={27.5} fill={INK} textAnchor="middle" dominantBaseline="central">{letter}</text>
    </g>
  );
}

function Colorbar() {
  const left = 94, right = 557.7, top = 1556.7, bottom = 1600.7;
  const x = d3.scaleLinear().domain([-25, 25]).range([left, right]);
  const steps = d3.range(left, right, 1);
  return (
    <g fontFamily={FONT}>
      {steps.map((p) => <rect key={p} x={p} y={top} width={1.4} height={bottom - top} fill={cmap(x.invert(p))} />)}
      {colorbarTicks.map((t) => (
        <g key={t} stroke="#222" strokeWidth={1}>
          <line x1={x(t)} x2={x(t)} y1={top} y2={top + 4.5} />
          <line x1={x(t)} x2={x(t)} y1={bottom} y2={bottom - 4.5} />
        </g>
      ))}
      <rect x={left} y={top} width={right - left} height={bottom - top} fill="none" stroke="#111" strokeWidth={1.5} />
      <g fill={INK} fontSize={TICK_FS} textAnchor="middle">
        {colorbarTicks.map((t) => <text key={t} x={x(t)} y={bottom + 22} >{minus(t)}</text>)}
        <text x={317} y={bottom + 48} fontSize={LABEL_FS}>gravity difference (µgal)</text>
      </g>
    </g>
  );
}

export default function App() {
  return (
    <svg width={1138} height={1655} style={{ position: "absolute", left: 0, top: 0, background: "#fff" }}>
      <MapPanel top={14} bottom={477.7} letter="a)" letterDy={18} survey="survey 2 - survey 1" surveyX={343} surveyY={460} contours={contoursA} labels={labelsA} values={valuesA} small={smallA} cana={[6.94, 10.08]} blaq={[7.45, 5.9]} salv={[7.46, 2.34]} axisLabels />
      <MapPanel top={546.7} bottom={1010.3} letter="c)" letterDy={18} survey="survey 3 - survey 2" surveyX={346} surveyY={992.5} contours={contoursC} labels={labelsC} values={valuesC} small={smallC} cana={[6.94, 10.25]} blaq={[7.42, 5.89]} salv={[7.44, 2.34]} />
      <MapPanel top={1076.7} bottom={1540.4} letter="e)" letterDy={24} survey="survey 4 - survey 3" surveyX={346} surveyY={1520} contours={contoursE} labels={labelsE} values={valuesE} small={smallE} cana={[6.84, 10.14]} blaq={[7.36, 5.95]} salv={[7.38, 2.41]} />
      <Colorbar />
      <HistPanel top={12.8} bottom={465.8} letter="b)" letterDy={15} edges={binEdgesB} counts={countsB} colors={colorsB} />
      <HistPanel top={545} bottom={998.2} letter="d)" letterDy={21} edges={binEdgesD} counts={countsD} colors={colorsD} />
      <HistPanel top={1075} bottom={1528.3} letter="f)" letterDy={22} edges={binEdgesB} counts={countsF} colors={colorsB} />
    </svg>
  );
}
